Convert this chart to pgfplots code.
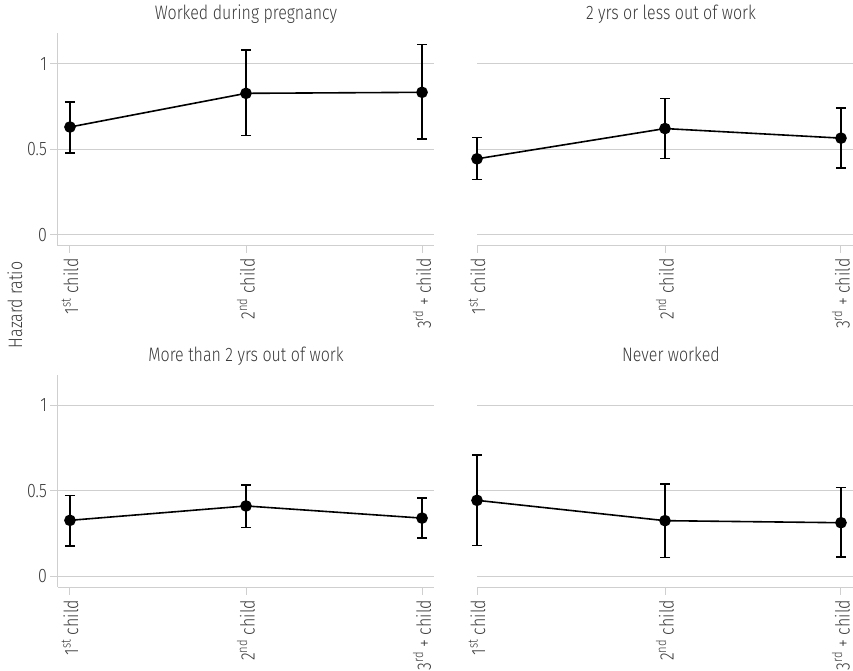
\documentclass[border=0pt]{standalone}
\usepackage{pgfplots}
\pgfplotsset{compat=1.18}
\usepackage{pgfplotstable}
\usepackage{fontspec}
\setmainfont{Fira Sans Light}[FakeStretch=0.82]
\definecolor{txt}{HTML}{3A3A3A}
\definecolor{grd}{HTML}{CFCFCF}

\pgfplotstableread{
x y lo hi
0 0.630 0.477 0.775
1 0.827 0.581 1.080
2 0.833 0.560 1.112
}\tA
\pgfplotstableread{
x y lo hi
0 0.444 0.322 0.569
1.033 0.621 0.446 0.796
2 0.565 0.390 0.740
}\tB
\pgfplotstableread{
x y lo hi
0 0.327 0.177 0.473
1 0.411 0.286 0.535
2 0.340 0.224 0.459
}\tC
\pgfplotstableread{
x y lo hi
0 0.444 0.179 0.708
1.033 0.325 0.109 0.541
2 0.313 0.111 0.518
}\tD

\newcommand{\fs}{\fontsize{19.5}{21}\selectfont}

\pgfplotsset{
 hr/.style={
  scale only axis, height=212pt,
  ymin=-0.063, ymax=1.177,
  ytick={0,0.5,1}, yticklabels={0,0.5,1},
  axis x line*=bottom, axis y line*=left,
  axis line style={draw=grd, line width=1pt, -},
  ymajorgrids, major grid style={draw=grd, line width=1pt},
  tick style={draw=grd, line width=1pt},
  tick align=outside, major tick length=7.5pt,
  xticklabels={1\textsuperscript{st} child, 2\textsuperscript{nd} child, 3\textsuperscript{rd} + child},
  xticklabel style={rotate=90, anchor=east, font=\fs, text=txt, xshift=-2pt},
  yticklabel style={font=\fs, text=txt},
  title style={font=\fs, text=txt, at={(0.5,1)}, anchor=base, yshift=8pt},
  clip=false,
 },
 lp/.style={hr, width=376pt, xmin=-0.068, xmax=2.068, xtick={0,1,2}},
 rp/.style={hr, width=388pt, xmin=0, xmax=2.132, xtick={0,1.033,2},
   y axis line style={draw=none}, ytick style={draw=none}, yticklabels={}},
 ser/.style={black, line width=1.6pt, mark=*, mark size=5pt, mark options={solid, fill=black},
   error bars/.cd, y dir=both, y explicit,
   error bar style={line width=1.6pt, black},
   error mark options={rotate=90, line width=1.6pt, mark size=5pt, black}},
}

\begin{document}
\begin{tikzpicture}
\begin{axis}[lp, at={(58pt,-245.5pt)}, anchor=south west, title={Worked during pregnancy}]
\addplot[ser] table[x=x, y=y, y error plus expr=\thisrow{hi}-\thisrow{y}, y error minus expr=\thisrow{y}-\thisrow{lo}] {\tA};
\end{axis}
\begin{axis}[rp, at={(477pt,-245.5pt)}, anchor=south west, title={2 yrs or less out of work}]
\addplot[ser] table[x=x, y=y, y error plus expr=\thisrow{hi}-\thisrow{y}, y error minus expr=\thisrow{y}-\thisrow{lo}] {\tB};
\end{axis}
\begin{axis}[lp, at={(58pt,-587pt)}, anchor=south west, title={More than 2 yrs out of work}]
\addplot[ser] table[x=x, y=y, y error plus expr=\thisrow{hi}-\thisrow{y}, y error minus expr=\thisrow{y}-\thisrow{lo}] {\tC};
\end{axis}
\begin{axis}[rp, at={(477pt,-587pt)}, anchor=south west, title={Never worked}]
\addplot[ser] table[x=x, y=y, y error plus expr=\thisrow{hi}-\thisrow{y}, y error minus expr=\thisrow{y}-\thisrow{lo}] {\tD};
\end{axis}
\node[rotate=90, font=\fs, text=txt] at (15pt,-305pt) {Hazard ratio};
\pgfresetboundingbox
\path[use as bounding box] (0,0) rectangle (853pt,-671pt);
\end{tikzpicture}
\end{document}
